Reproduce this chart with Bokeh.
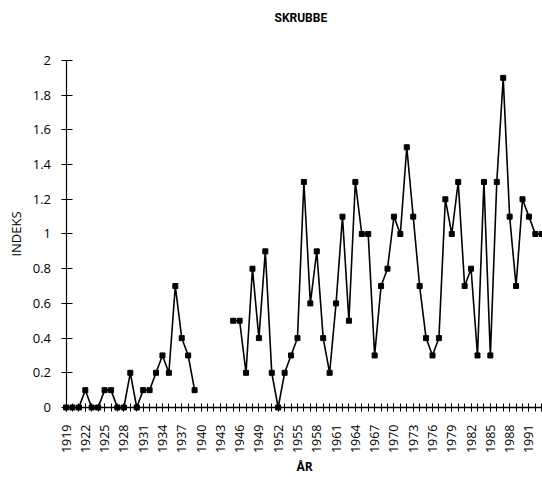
import numpy as np
from bokeh.plotting import figure
from bokeh.models import FixedTicker, NumeralTickFormatter, LinearAxis
from bokeh.embed import file_html
from bokeh.resources import INLINE

# Yearly index for flounder (skrubbe); no observations 1940-1944
years = list(range(1919, 1994))
index_values = [
    0, 0, 0, 0.1, 0, 0, 0.1, 0.1, 0, 0,          # 1919-1928
    0.2, 0, 0.1, 0.1, 0.2, 0.3, 0.2, 0.7, 0.4, 0.3,  # 1929-1938
    0.1, None, None, None, None, None, 0.5, 0.5, 0.2, 0.8,  # 1939-1948
    0.4, 0.9, 0.2, 0, 0.2, 0.3, 0.4, 1.3, 0.6, 0.9,  # 1949-1958
    0.4, 0.2, 0.6, 1.1, 0.5, 1.3, 1.0, 1.0, 0.3, 0.7,  # 1959-1968
    0.8, 1.1, 1.0, 1.5, 1.1, 0.7, 0.4, 0.3, 0.4, 1.2,  # 1969-1978
    1.0, 1.3, 0.7, 0.8, 0.3, 1.3, 0.3, 1.3, 1.9, 1.1,  # 1979-1988
    0.7, 1.2, 1.1, 1.0, 1.0,                        # 1989-1993
]
label_years = list(range(1919, 1992, 3))
y_ticks = [0, 0.2, 0.4, 0.6, 0.8, 1, 1.2, 1.4, 1.6, 1.8, 2]

x = np.array(years, dtype=float)
y = np.array([np.nan if v is None else v for v in index_values], dtype=float)

FONT = "Open Sans"

# The frame covers the page below the title; the axes sit inside it at
# x=1919 and y=0, so the ranges are widened to leave room for the labels.
p = figure(
    width=542, height=477,
    output_backend="svg", toolbar_location=None,
    x_range=(1908.81, 1993.11), y_range=(-0.4035, 2.1729),
    x_axis_location=None, y_axis_location=None,
    min_border_left=0, min_border_right=0,
    min_border_top=30, min_border_bottom=0,
    title="SKRUBBE",
)
p.outline_line_color = None
p.xgrid.visible = False
p.ygrid.visible = False
p.background_fill_color = "white"
p.border_fill_color = "white"

p.title.align = "left"
p.title.offset = 274
p.title.standoff = 12
p.title.text_font = "Roboto"
p.title.text_font_size = "12px"
p.title.text_font_style = "bold"
p.title.text_color = "black"

# x axis: a tick for every year, labels every third year
xa = LinearAxis(fixed_location=0)
xa.bounds = (1919, 1994)
xa.ticker = FixedTicker(ticks=label_years, minor_ticks=years)
xa.major_label_orientation = np.pi / 2
xa.major_label_text_font = FONT
xa.major_label_text_font_size = "12.5px"
xa.major_label_text_color = "black"
xa.major_label_standoff = 13
xa.major_tick_in = 4
xa.major_tick_out = 4
xa.minor_tick_in = 4
xa.minor_tick_out = 4
xa.axis_line_width = 1.5
xa.axis_line_color = "black"
xa.major_tick_line_color = "black"
xa.minor_tick_line_color = "black"
xa.axis_label = "ÅR"
xa.axis_label_text_font = FONT
xa.axis_label_text_font_size = "12px"
xa.axis_label_text_font_style = "bold"
xa.axis_label_text_color = "black"
xa.axis_label_standoff = 2
p.add_layout(xa, "below")

ya = LinearAxis(fixed_location=1919)
ya.bounds = (0, 2)
ya.ticker = FixedTicker(ticks=y_ticks, minor_ticks=[])
ya.formatter = NumeralTickFormatter(format="0.[0]")
ya.major_label_text_font = FONT
ya.major_label_text_font_size = "13px"
ya.major_label_text_color = "black"
ya.major_label_standoff = 10
ya.major_tick_in = 6
ya.major_tick_out = 5
ya.minor_tick_in = 0
ya.minor_tick_out = 0
ya.axis_line_width = 1.2
ya.axis_line_color = "black"
ya.major_tick_line_color = "black"
ya.axis_label = "INDEKS"
ya.axis_label_text_font = FONT
ya.axis_label_text_font_size = "13px"
ya.axis_label_text_font_style = "normal"
ya.axis_label_text_color = "black"
ya.axis_label_standoff = 5
p.add_layout(ya, "left")

p.line(x, y, line_color="black", line_width=1.6)
p.scatter(x, y, marker="square", size=5, fill_color="black", line_color="black")

open("out.html", "w").write(file_html(p, INLINE))
